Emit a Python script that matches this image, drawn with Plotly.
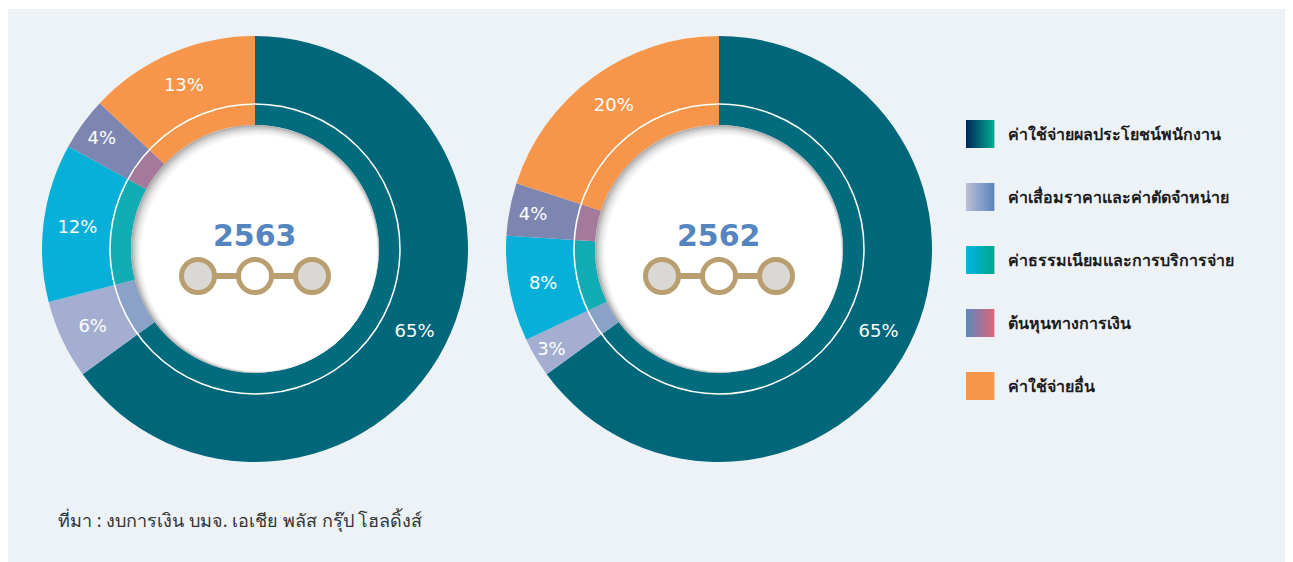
import plotly.graph_objects as go

W, H = 1293, 562
OFF = 8                      # page body margin in the browser
FW, FH = W - OFF, H - OFF    # figure size

# ---- data ----
categories = [
    "ค่าใช้จ่ายผลประโยชน์พนักงาน",
    "ค่าเสื่อมราคาและค่าตัดจำหน่าย",
    "ค่าธรรมเนียมและการบริการจ่าย",
    "ต้นหุนทางการเงิน",
    "ค่าใช้จ่ายอื่น",
]
years = ["2563", "2562"]
values_2563 = [65, 6, 12, 4, 13]
values_2562 = [65, 3, 8, 4, 20]
source_note = "ที่มา : งบการเงิน บมจ. เอเชีย พลัส กรุ๊ป โฮลดิ้งส์"

# ---- style ----
BG_PANEL = "#edf2f7"
OUTER_COLORS = ["#00677b", "#a3aed0", "#07b0d8", "#7d86b0", "#f7964a"]
INNER_COLORS = ["#006c7d", "#8aa2c8", "#12acb4", "#a47a9c", "#f7964a"]
LEGEND_GRAD = [
    ("#002a5e", "#00a88e"),
    ("#b8bcd6", "#5e88bc"),
    ("#00b4e4", "#00a88e"),
    ("#5e88bc", "#d8667e"),
    ("#f7964a", "#f7964a"),
]
GOLD = "#b99f6f"
YEAR_BLUE = "#5485be"

R_OUT, R_LINE, R_HOLE = 213, 145, 124
CENTERS = [(255, 249), (719, 249)]


def px(x):
    return (x - OFF) / FW


def py(y):
    return 1 - (y - OFF) / FH


def domain(cx, cy, r):
    return dict(x=[px(cx - r), px(cx + r)], y=[py(cy + r), py(cy - r)])


def circle(cx, cy, r, fill=None, line=None, width=0, layer="above"):
    return dict(
        type="circle", xref="paper", yref="paper", layer=layer,
        x0=px(cx - r), x1=px(cx + r), y0=py(cy + r), y1=py(cy - r),
        fillcolor=fill if fill else "rgba(0,0,0,0)",
        line=dict(color=line if line else "rgba(0,0,0,0)", width=width),
    )


def rect(x0, y0, x1, y1, fill, layer="above"):
    return dict(
        type="rect", xref="paper", yref="paper", layer=layer,
        x0=px(x0), x1=px(x1), y0=py(y1), y1=py(y0),
        fillcolor=fill, line=dict(width=0),
    )


def mix(c1, c2, t):
    a = [int(c1[i:i + 2], 16) for i in (1, 3, 5)]
    b = [int(c2[i:i + 2], 16) for i in (1, 3, 5)]
    return "#" + "".join(f"{round(a[k] + (b[k] - a[k]) * t):02x}" for k in range(3))


fig = go.Figure()
shapes = [rect(OFF, 9, W, H, BG_PANEL, layer="below")]
annotations = []

for (cx, cy), year, vals in zip(CENTERS, years, [values_2563, values_2562]):
    # outer ring with labels
    fig.add_trace(go.Pie(
        labels=categories, values=vals, sort=False, direction="clockwise",
        rotation=0, hole=R_LINE / R_OUT, domain=domain(cx, cy, R_OUT),
        marker=dict(colors=OUTER_COLORS, line=dict(width=0)),
        texttemplate="%{value}%", textposition="inside",
        insidetextorientation="horizontal",
        textfont=dict(family="DejaVu Sans, Arial", size=18, color="white"),
        showlegend=False, hoverinfo="label+value",
    ))
    # inner ring
    fig.add_trace(go.Pie(
        labels=categories, values=vals, sort=False, direction="clockwise",
        rotation=0, hole=R_HOLE / R_LINE, domain=domain(cx, cy, R_LINE),
        marker=dict(colors=INNER_COLORS, line=dict(width=0)),
        textinfo="none", showlegend=False, hoverinfo="label+value",
    ))

    # white divider line
    shapes.append(circle(cx, cy, R_LINE, line="white", width=1.5))
    # centre disk with soft inner shadow at the top-left
    shades = ["#b0b0b0", "#c6c6c6", "#d8d8d8", "#e6e6e6", "#f0f0f0", "#f8f8f8", "#ffffff"]
    for k, col in enumerate(shades):
        d = k * 1.0
        shapes.append(circle(cx + d * 0.707, cy + d * 0.707, R_HOLE - d, fill=col))

    # gold three-circle ornament
    oy = 276
    shapes.append(rect(cx - 57, oy - 3, cx + 57, oy + 3, GOLD))
    for dx, fill in [(-57, "#d9d8d4"), (0, "#ffffff"), (57, "#d9d8d4")]:
        shapes.append(circle(cx + dx, oy, 16.5, fill=fill, line=GOLD, width=5))

    annotations.append(dict(
        x=px(cx), y=py(235), xref="paper", yref="paper", text=f"<b>{year}</b>",
        showarrow=False, xanchor="center", yanchor="middle",
        font=dict(family="DejaVu Sans, Arial", size=30, color=YEAR_BLUE),
    ))

# legend built from the category list
for i, (name, (c1, c2)) in enumerate(zip(categories, LEGEND_GRAD)):
    yc = 134 + i * 63
    n = 14
    for s in range(n):
        x0 = 966 + s * 28 / n
        shapes.append(rect(x0, yc - 14, x0 + 28 / n + 0.4, yc + 14, mix(c1, c2, s / (n - 1))))
    annotations.append(dict(
        x=px(1006), y=py(yc), xref="paper", yref="paper", text=f"<b>{name}</b>",
        showarrow=False, xanchor="left", yanchor="middle",
        font=dict(family="Noto Sans, sans-serif", size=16, color="#1c1c1c"),
    ))

annotations.append(dict(
    x=px(56), y=py(520), xref="paper", yref="paper", text=source_note,
    showarrow=False, xanchor="left", yanchor="middle",
    font=dict(family="Noto Sans, sans-serif", size=18, color="#333333"),
))

fig.update_layout(
    width=FW, height=FH,
    margin=dict(l=0, r=0, t=0, b=0),
    paper_bgcolor="white",
    shapes=shapes,
    annotations=annotations,
    uniformtext=dict(mode="show", minsize=18),
)

fig.write_html("out.html")
